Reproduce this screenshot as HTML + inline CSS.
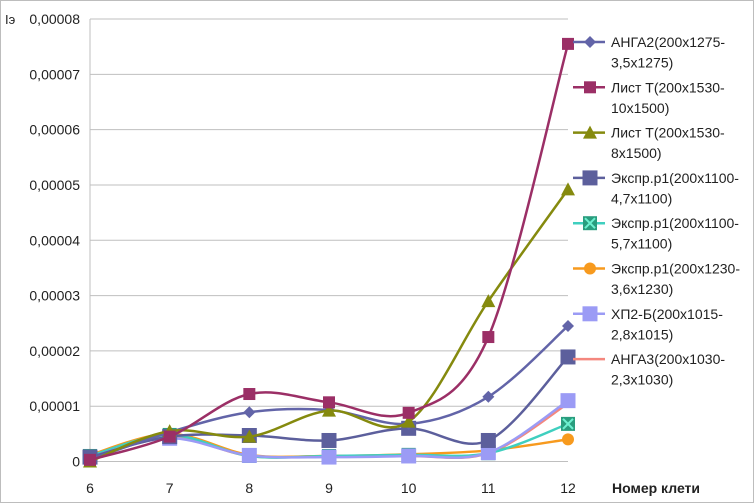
<!DOCTYPE html>
<html><head><meta charset="utf-8"><style>
body{margin:0;background:#fff}
svg{display:block;font-family:"Liberation Sans","DejaVu Sans",sans-serif}
</style></head><body>
<svg id="c" width="754" height="503">
<rect x="0.5" y="0.5" width="753" height="502" fill="#fff" stroke="#bdbdbd"/>
</svg>
<script>
const categories=[6,7,8,9,10,11,12];
const yTicks=[0,0.00001,0.00002,0.00003,0.00004,0.00005,0.00006,0.00007,0.00008];
const yTickLabels=["0","0,00001","0,00002","0,00003","0,00004","0,00005","0,00006","0,00007","0,00008"];
const sAnga2=[0.0000003,0.0000053,0.0000089,0.0000093,0.0000068,0.0000117,0.0000245];
const sList10=[0.0000003,0.0000045,0.0000122,0.0000107,0.0000088,0.0000225,0.0000755];
const sList8=[0.0000000,0.0000055,0.0000045,0.0000092,0.0000072,0.0000290,0.0000492];
const sExp47=[0.0000008,0.0000045,0.0000047,0.0000038,0.0000060,0.0000038,0.0000189];
const sExp57=[0.0000010,0.0000048,0.0000010,0.0000010,0.0000012,0.0000015,0.0000068];
const sExp36=[0.0000012,0.0000050,0.0000012,0.0000010,0.0000013,0.0000020,0.0000040];
const sHP2=[0.0000008,0.0000042,0.0000011,0.0000008,0.0000010,0.0000016,0.0000110];
const sAnga3=[0.0000010,0.0000045,0.0000010,0.0000010,0.0000010,0.0000015,0.0000105];
const seriesNames=["АНГА2(200x1275-|3,5x1275)","Лист T(200x1530-|10x1500)","Лист T(200x1530-|8x1500)","Экспр.р1(200x1100-|4,7x1100)","Экспр.р1(200x1100-|5,7x1100)","Экспр.р1(200x1230-|3,6x1230)","ХП2-Б(200x1015-|2,8x1015)","АНГА3(200x1030-|2,3x1030)"];
const NS="http://www.w3.org/2000/svg";
const svg=document.getElementById('c');
const X0=90,X1=568,Y0=461.5,YT=19;
const xs=i=>X0+(X1-X0)*(categories[i]-6)/6;
const ys=v=>Y0-(Y0-YT)*v/0.00008;
function el(t,a,p){const e=document.createElementNS(NS,t);for(const k in a)e.setAttribute(k,a[k]);(p||svg).appendChild(e);return e;}
yTicks.forEach((v,i)=>{
 if(i>0){const g=el('line',{x1:X0,x2:X1,y1:ys(v),y2:ys(v),stroke:'#bfbfbf'});
 
 }
 const t=el('text',{x:80,y:ys(v)+5,'text-anchor':'end','font-size':14,fill:'#222'});t.textContent=yTickLabels[i];
 
 
});
const ax=el('line',{x1:X0,x2:X0,y1:YT,y2:Y0,stroke:'#bfbfbf'});


const bx=el('line',{x1:X0,x2:X1,y1:Y0,y2:Y0,stroke:'#bfbfbf'});


categories.forEach((c,i)=>{const t=el('text',{x:xs(i),y:493,'text-anchor':'middle','font-size':14,fill:'#222'});t.textContent=c;
 
 });
const xt=el('text',{x:612,y:493,'font-size':14,'font-weight':'bold',fill:'#222'});xt.textContent='Номер клети';


const yt=el('text',{x:5,y:24,'font-size':13,fill:'#222'});yt.textContent='Iэ';


function smooth(p){let d=`M${p[0][0]},${p[0][1]}`;for(let i=0;i<p.length-1;i++){const a=p[i-1]||p[i],b=p[i],c=p[i+1],e=p[i+2]||c;const t=6;d+=` C${b[0]+(c[0]-a[0])/t},${b[1]+(c[1]-a[1])/t} ${c[0]-(e[0]-b[0])/t},${c[1]-(e[1]-b[1])/t} ${c[0]},${c[1]}`;}return d;}
function marker(type,x,y,col,g){
 if(type==='diamond')el('path',{d:`M${x},${y-6}L${x+6},${y}L${x},${y+6}L${x-6},${y}Z`,fill:col},g);
 else if(type==='sq')el('rect',{x:x-6,y:y-6,width:12,height:12,fill:col},g);
 else if(type==='bigsq')el('rect',{x:x-7.5,y:y-7.5,width:15,height:15,fill:col},g);
 else if(type==='tri')el('path',{d:`M${x},${y-7}L${x+7},${y+6}L${x-7},${y+6}Z`,fill:col},g);
 else if(type==='xsq'){el('rect',{x:x-7,y:y-7,width:14,height:14,fill:'#2a9d7e'},g);el('path',{d:`M${x-5},${y-5}L${x+5},${y+5}M${x+5},${y-5}L${x-5},${y+5}`,stroke:'#6ef0d0','stroke-width':2},g);}
 else if(type==='circ')el('circle',{cx:x,cy:y,r:6,fill:col},g);
 else if(type==='lsq')el('rect',{x:x-7.5,y:y-7.5,width:15,height:15,fill:col},g);
}
const series=[
 {d:sAnga3,col:'#f4877e',m:null,n:'series-anga3'},
 {d:sExp36,col:'#f79a1e',m:'circ',n:'series-expr-3-6'},
 {d:sExp57,col:'#3fcfbf',m:'xsq',n:'series-expr-5-7'},
 {d:sHP2,col:'#9b9bf5',m:'lsq',n:'series-hp2-b'},
 {d:sExp47,col:'#5c5f9c',m:'bigsq',n:'series-expr-4-7'},
 {d:sAnga2,col:'#6264a8',m:'diamond',n:'series-anga2'},
 {d:sList8,col:'#858a0e',m:'tri',n:'series-list-8'},
 {d:sList10,col:'#9b2f66',m:'sq',n:'series-list-10'}];
series.forEach(s=>{
 const g=el('g',{});
 
 
 const pts=s.d.map((v,i)=>[xs(i),ys(v)]);
 el('path',{d:smooth(pts),fill:'none',stroke:s.col,'stroke-width':2.5},g);
 if(s.m)pts.forEach(p=>marker(s.m,p[0],p[1],s.col,g));
});
const legOrder=[5,7,6,4,2,1,3,0];
legOrder.forEach((si,k)=>{
 const s=series[si];const y=42+k*45.3;
 const g=el('g',{});
 
 
 el('line',{x1:573,x2:605,y1:y,y2:y,stroke:s.col,'stroke-width':2.5},g);
 if(s.m)marker(s.m==='bigsq'||s.m==='lsq'?s.m:s.m,590,y,s.col,g);
 const parts=seriesNames[k].split('|');
 parts.forEach((p,j)=>{const t=el('text',{x:611,y:y+5+j*20.5,'font-size':14,fill:'#222'},g);t.textContent=p;});
});
</script>
</body></html>
